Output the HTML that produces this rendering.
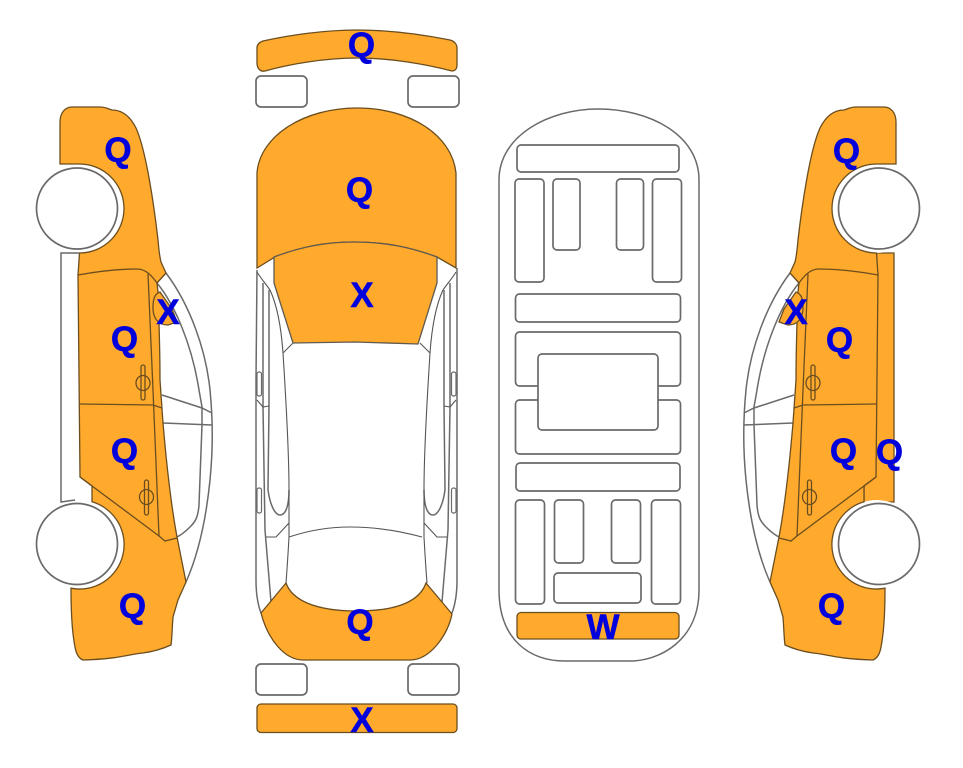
<!DOCTYPE html>
<html>
<head>
<meta charset="utf-8">
<style>
html,body{margin:0;padding:0;background:#fff;}
svg{display:block;}
text{font-family:"Liberation Sans",sans-serif;font-weight:bold;font-size:35px;fill:#0000DC;stroke:#0000DC;stroke-width:.5;text-anchor:middle;}
.o{fill:#FFA92D;stroke:#6B4E1E;stroke-width:1.3;}
.g{fill:none;stroke:#6A6A6A;stroke-width:1.5;}
.gw{fill:#fff;stroke:#6A6A6A;stroke-width:1.7;}
.d{fill:none;stroke:#6B4E1E;stroke-width:1.3;}
.k{fill:none;stroke:#555;stroke-width:1.1;}
</style>
</head>
<body>
<svg width="963" height="768" viewBox="0 0 963 768" xmlns="http://www.w3.org/2000/svg">
<defs>
<g id="car">
  <!-- glass lines -->
  <path class="g" d="M166,273 C190,305 206,350 210,390 C213,420 213,450 210,480 C206,520 198,555 186,582"/>
  <path class="g" d="M157,283 C175,305 192,345 199,390 L202,407 L202,425 L199,505 C198,518 195,522 190,527 C185,532 181,535 177,537"/>
  <path class="g" d="M162,395 L202,408 L212,413"/>
  <path class="g" d="M163,423 L212,425"/>
  <!-- body -->
  <path class="o" d="M60,164 L60,122 C60,113 65,107 72,107 L100,107 C106,107 108,109 112,110 C122,110 130,116 136,128 C146,150 154,205 158,240 C159,252 160,258 161,262 L166,273 L157,283 L158,292 C159,320 160,360 160,380 L163,423 C167,470 172,510 177,537 L186,582 L178,600 L173,617 C172,630 172,638 171,645 C160,650 150,652 143,653 C130,654 120,659 83,660 C78,658 76,653 75,647 C72,632 71,610 71,588.200 A44.5,44.5 0 0 0 92,501.800 L92,486 L80,477 L78,275 L79.500,253 A44.5,44.5 0 1 0 79.500,164 Z"/>
  <!-- X blob -->
  <path class="o" d="M160,292 C154,294 153,300 153,308 C153,318 158,325 168,325 L177,322 L172,309 Z"/>
  <!-- door lines -->
  <path class="d" d="M78,275 C100,271 120,269 137,269 C146,269 152,276 157,283 L166,273"/>
  <path class="d" d="M148,274 L153,390 L159,536"/>
  <path class="d" d="M79,404 L153,405 L162,408"/>
  <path class="d" d="M80,477 L159,536 L165,541 L177,538"/>
  <!-- handles -->
  <rect class="d" x="141" y="365" width="4" height="35" rx="2"/>
  <ellipse class="d" cx="143" cy="383" rx="7" ry="7.5"/>
  <rect class="d" x="144.500" y="480" width="4" height="35" rx="2"/>
  <ellipse class="d" cx="146.500" cy="497" rx="7" ry="7.5"/>
  <!-- wheels -->
  <circle class="gw" cx="77" cy="208.500" r="40.500"/>
  <circle class="gw" cx="77" cy="544" r="40.500"/>
</g>
<g id="side">
  <path class="k" d="M257,272 C262,280 266,284 270,290 C277,305 281,325 283,353"/>
  <path class="g" d="M263,283 L263,407 L265,530 L271,602"/>
  <path class="g" d="M269,290 L269,406 L268,490 C270,505 275,515 280,515 C286,515 289,505 289,490"/>
  <path class="k" d="M257,400 L263,407 L269,406"/>
  <path class="k" d="M266,537 L276,537 L289,523"/>
  <path class="k" d="M293,343 L283,353"/>
  <path class="k" d="M283,353 C286,400 289,450 289,490 L289,537 C288,555 287,570 286,583"/>
  <rect class="gw" x="257" y="372" width="4.500" height="24" rx="2" style="stroke-width:1.2"/>
  <rect class="gw" x="257" y="488" width="4.500" height="25" rx="2" style="stroke-width:1.2"/>
</g>
</defs>

<!-- left car -->
<path class="g" d="M79,253 H61 V502 L75,500"/>
<use href="#car"/>

<!-- right car: orange strip -->
<path class="o" d="M870,253 H894 V502 H864 V484 L870,480 Z"/>
<circle cx="876.500" cy="208.500" r="44.500" fill="#fff"/>
<circle cx="876.500" cy="544.500" r="44.500" fill="#fff"/>
<g transform="translate(956,0) scale(-1,1)"><use href="#car"/></g>

<!-- top view -->
<path class="o" d="M257,48 C257,44 260,42 263,41 C290,35 325,30 357,30 C390,30 425,35 450,40 C454,41 457,44 457,48 L457,65 C457,69 455,71 452,71 C425,64 390,58 357,58 C325,58 290,64 265,71 C260,72 257,68 257,63 Z"/>
<rect class="gw" x="256" y="76" width="51" height="31" rx="5"/>
<rect class="gw" x="408" y="76" width="51" height="31" rx="5"/>
<rect class="gw" x="256" y="664" width="51" height="31" rx="5"/>
<rect class="gw" x="408" y="664" width="51" height="31" rx="5"/>
<path class="g" d="M257,270 L256,380 L256,580 C256,595 258,605 261,613"/>
<path class="g" d="M457,268 L457,380 L457,580 C457,595 455,605 452,613"/>
<use href="#side"/>
<g transform="translate(713,0) scale(-1,1)"><use href="#side"/></g>
<path class="k" d="M289,537 C310,530 330,527 350,527 C375,527 400,531 422,537"/>
<path class="o" d="M261,613 L286,583 C292,600 315,611 357,611 C400,611 420,600 426,583 L452,614 C448,635 430,660 410,660 L303,660 C285,660 268,640 261,613 Z"/>
<path class="o" d="M257,268 L257,173 C260,135 305,108 357,108 C410,108 452,135 456,173 L456,268 L437,257 C410,247 385,242 353,242 C325,242 300,247 275,257 Z"/>
<path class="o" d="M274,257 C300,247 325,242 353,242 C385,242 410,247 437,257 L437,283 L418,344 L355,342 L293,343 L274,283 Z" style="stroke:#5F5A50"/>
<rect class="o" x="257" y="704" width="200" height="28.500" rx="4"/>

<!-- floor view -->
<path class="g" d="M499,180 C499,135 550,109 598,109 C650,109 699,135 699,180 L699,590 C699,640 660,661 630,661 L565,661 C530,661 499,640 499,590 Z"/>
<rect class="gw" x="517" y="145" width="162" height="27" rx="4"/>
<rect class="gw" x="515" y="179" width="29" height="103" rx="4"/>
<rect class="gw" x="553" y="179" width="27" height="71" rx="4"/>
<rect class="gw" x="616.500" y="179" width="27" height="71" rx="4"/>
<rect class="gw" x="652.500" y="179" width="29" height="103" rx="4"/>
<rect class="gw" x="515.500" y="294" width="165" height="28" rx="4"/>
<rect class="gw" x="515.500" y="332" width="165" height="54" rx="4"/>
<rect class="gw" x="515.500" y="400" width="165" height="54" rx="4"/>
<rect class="gw" x="538" y="354" width="120" height="76" rx="4"/>
<rect class="gw" x="516" y="463" width="164" height="28" rx="4"/>
<rect class="gw" x="515.500" y="500" width="29" height="104" rx="4"/>
<rect class="gw" x="554.500" y="500" width="29" height="63" rx="4"/>
<rect class="gw" x="611.500" y="500" width="29" height="63" rx="4"/>
<rect class="gw" x="651.500" y="500" width="29" height="104" rx="4"/>
<rect class="gw" x="554" y="573" width="87" height="30" rx="4"/>
<rect class="o" x="517" y="612.500" width="162" height="26.500" rx="4"/>

<!-- labels -->
<text x="118" y="162">Q</text>
<text x="168" y="324">X</text>
<text x="124.500" y="351">Q</text>
<text x="124.500" y="463">Q</text>
<text x="132.500" y="618">Q</text>
<text x="361.500" y="57">Q</text>
<text x="359.500" y="202">Q</text>
<text x="362" y="307">X</text>
<text x="360" y="634">Q</text>
<text x="362" y="732">X</text>
<text x="603" y="639">W</text>
<text x="846.500" y="163">Q</text>
<text x="796" y="324">X</text>
<text x="839.500" y="352">Q</text>
<text x="843.500" y="463">Q</text>
<text x="889.500" y="464">Q</text>
<text x="831.500" y="618">Q</text>
</svg>
</body>
</html>
